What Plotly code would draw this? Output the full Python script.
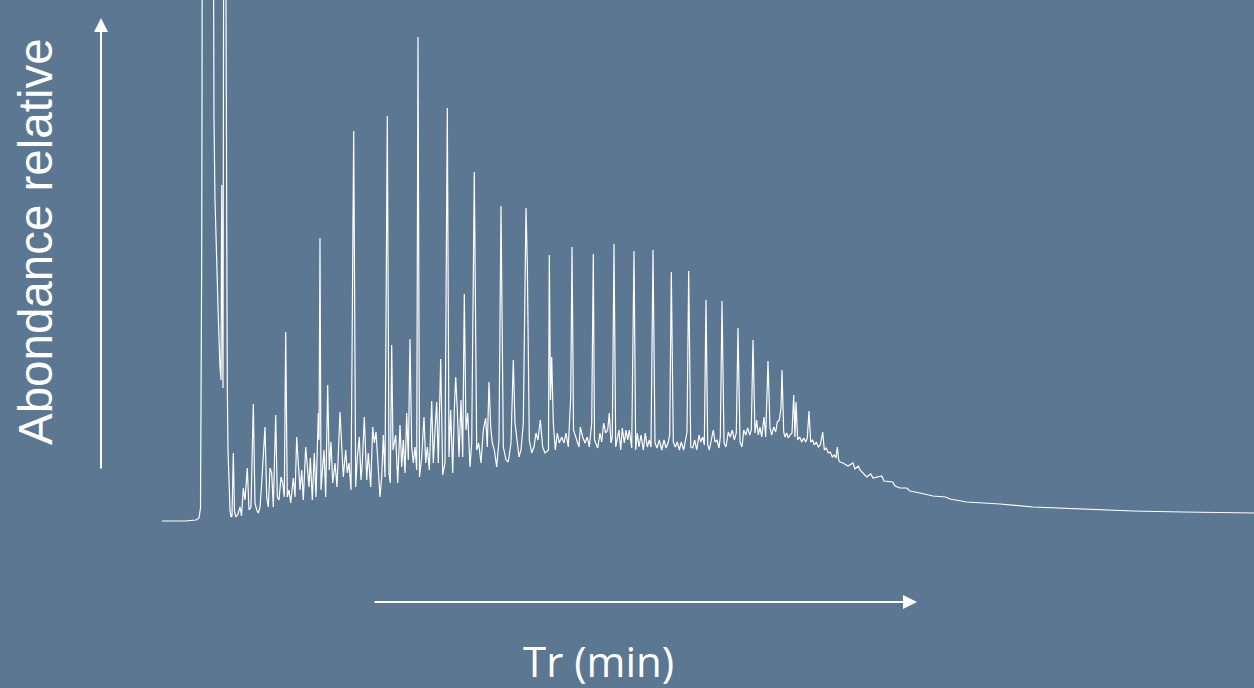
import plotly.graph_objects as go

# Chromatogram trace: scan number (0.05 min per scan) and relative abundance
scan = [0, 23, 34, 37, 38.5, 39.3, 39.7, 40, 40.5, 50.8, 51.3, 52, 53, 54.7, 56.3, 58, 59, 59.7, 60.3, 61,
        62, 63, 64, 64.7, 65.3, 66, 67, 68, 69, 70, 71.3, 72.5, 74, 76, 78, 79.5, 81.3, 83, 85.3, 87,
        89, 91.3, 93, 94.7, 96.3, 98, 99.7, 101.3, 103, 104.7, 106.3, 108, 109.7, 111.3, 113.7, 115.3, 117, 119, 120.7, 122.3,
        123.7, 125.3, 127, 128.7, 131.3, 133, 134.7, 136.3, 138, 139.7, 141.3, 143.7, 145.3, 147, 148.3, 150.3, 152.3, 154, 156.3, 157,
        158, 159, 162, 163.7, 165.7, 167.3, 169, 170.7, 173, 175, 178, 179.7, 181.3, 183.7, 185.3, 187, 189, 191.7, 193.7, 195.3,
        197.3, 199, 200.3, 202.3, 204.7, 206.3, 208.7, 210.7, 212.3, 214, 216.3, 218, 219.7, 221.3, 223, 225.3, 227, 228.3, 229.7, 231,
        233.7, 235.7, 238, 239.7, 241.3, 243, 244.7, 246.3, 248, 249.7, 251.3, 253, 254.7, 256, 257.5, 259.7, 262, 263.7, 265.3, 267.3,
        269.7, 271.3, 273, 274.7, 276.3, 278.7, 280.7, 283, 285.3, 287, 288.7, 290.7, 292.3, 293.7, 295.3, 297, 299, 300.7, 302.3, 304,
        305.7, 308, 309.7, 312.3, 314.7, 316.7, 319, 321.3, 323.7, 325.3, 327, 328.7, 330.3, 332.3, 334.7, 337, 339, 341.3, 344, 346.3,
        349, 351.3, 353, 354.7, 357, 359, 361.3, 364, 365.3, 367.3, 369.7, 372, 374, 376, 378.3, 380.7, 383, 386.5, 387.3, 388.5,
        389.7, 391.3, 393.3, 395.3, 397.3, 399.7, 402, 404, 406.3, 408.7, 410, 411.5, 414.7, 417, 418.3, 420.7, 423, 425.3, 427.3, 429.7,
        431.3, 432.5, 435.7, 438, 439.7, 441.7, 443.7, 445.7, 447.3, 449, 450.3, 452, 453.7, 455.3, 457, 458.7, 460.3, 462.3, 464, 465.7,
        467.3, 469.7, 472, 473.7, 475.3, 477, 479, 481.3, 483.3, 485.3, 487.3, 489, 491, 493, 495, 497.3, 499.7, 502, 504, 506,
        507.7, 509.3, 511.3, 513.3, 515.3, 517.3, 519.3, 521.7, 523.7, 525, 526.7, 528.7, 530.7, 532.7, 534.7, 537, 538.7, 540.7, 542.3, 544,
        545.7, 547.3, 549.7, 551.3, 553, 555, 557, 558.3, 560, 562, 564, 566.3, 568.3, 570.3, 572.3, 574.3, 576, 578, 580, 581.7,
        583.7, 585.7, 587.7, 589.3, 591, 593, 594.7, 596.3, 598, 599.7, 602, 603.7, 606, 608, 609.7, 611.7, 613.7, 615.3, 617.3, 619,
        620, 621.7, 623, 624.7, 626.3, 628, 630, 631.7, 633, 634, 635.7, 637.7, 639.7, 641.7, 643.7, 645.3, 647, 648.7, 650.7, 652.3,
        654.3, 656.3, 658.3, 660.7, 662.3, 664.3, 666.3, 668.3, 670.3, 672.3, 674, 675.3, 676.7, 678, 681, 686, 691, 693, 696.3, 698,
        704.7, 708.7, 711, 716, 719.7, 722, 730.7, 733, 738, 744.7, 748, 758, 771, 783.7, 788, 804.7, 838, 871, 921, 971,
        1021, 1092]

abundance = [-3, -3, -2, 0, 10, 118, 260, 408, 818, 818, 518, 398, 318, 251, 201, 151, 138, 333, 135, 130,
             818, 818, 460, 218, 131, 68, 38, 8, 1, 2, 65, 6, 1, 4, 11, 2, 30, 18, 50, 8,
             11, 114, 15, 8, 5, 11, 35, 65, 91, 21, 11, 50, 45, 11, 103, 21, 18, 41, 35, 21,
             186, 21, 28, 15, 40, 21, 81, 55, 28, 48, 18, 71, 55, 31, 60, 18, 65, 21, 105, 78,
             280, 28, 68, 21, 133, 48, 76, 35, 55, 31, 106, 78, 41, 68, 45, 55, 28, 387, 31, 61,
             81, 38, 55, 101, 38, 65, 31, 91, 75, 86, 48, 21, 41, 83, 41, 402, 45, 35, 173, 68,
             83, 35, 93, 51, 78, 45, 105, 58, 179, 71, 55, 71, 48, 481, 41, 61, 101, 55, 71, 48,
             117, 55, 88, 116, 55, 159, 43, 55, 410, 61, 108, 45, 108, 141, 108, 61, 118, 61, 224, 88,
             105, 51, 75, 346, 68, 75, 55, 88, 100, 71, 136, 91, 75, 68, 51, 78, 312, 71, 58, 56,
             75, 158, 95, 78, 61, 68, 95, 310, 255, 78, 65, 71, 85, 78, 98, 71, 65, 68, 263, 118,
             161, 95, 68, 85, 75, 81, 75, 85, 71, 121, 271, 88, 78, 71, 91, 81, 75, 81, 71, 95,
             264, 78, 70, 85, 76, 95, 85, 88, 105, 75, 81, 274, 71, 81, 88, 68, 90, 75, 88, 78,
             88, 70, 267, 68, 85, 71, 83, 68, 85, 71, 78, 71, 268, 75, 70, 78, 68, 78, 70, 75,
             83, 246, 76, 71, 76, 68, 76, 68, 78, 86, 247, 71, 70, 78, 68, 83, 76, 81, 73, 218,
             73, 68, 80, 88, 76, 78, 70, 81, 217, 75, 71, 86, 81, 88, 78, 85, 190, 76, 71, 88,
             83, 90, 83, 88, 178, 85, 98, 83, 91, 81, 101, 81, 157, 90, 83, 91, 86, 96, 98, 110,
             148, 86, 81, 85, 80, 83, 85, 123, 81, 116, 78, 81, 76, 80, 76, 80, 107, 76, 78, 73,
             76, 71, 73, 86, 68, 70, 65, 66, 61, 63, 60, 71, 58, 56, 55, 52, 55, 49, 52, 48,
             41, 44, 40, 41, 42, 37, 36, 32, 30, 30, 27, 25, 22, 21, 19, 16, 14, 11, 9, 7,
             6, 5]

MIN_PER_SCAN = 0.05
tr_min = [s * MIN_PER_SCAN for s in scan]

BG = "#5B7791"
W, H = 1254, 688

fig = go.Figure()
fig.add_trace(go.Scatter(
    x=tr_min, y=abundance, mode="lines",
    line=dict(color="white", width=1.2),
    hoverinfo="skip", showlegend=False,
))

fig.update_layout(
    width=W, height=H,
    margin=dict(l=0, r=0, t=0, b=0),
    paper_bgcolor=BG, plot_bgcolor=BG,
    xaxis=dict(range=[-8.1, 54.6], visible=False, fixedrange=True),
    yaxis=dict(range=[-170, 518], visible=False, fixedrange=True),
    showlegend=False,
)

# axis arrows (paper coordinates)
fig.add_annotation(
    x=101 / W, y=1 - 18 / H, xref="paper", yref="paper",
    ax=0, ay=452, text="", showarrow=True,
    arrowhead=2, arrowsize=1.4, arrowwidth=2, arrowcolor="white",
)
fig.add_annotation(
    x=917 / W, y=1 - 602 / H, xref="paper", yref="paper",
    ax=-544, ay=0, text="", showarrow=True,
    arrowhead=2, arrowsize=1.4, arrowwidth=2, arrowcolor="white",
)

fig.add_annotation(
    x=36 / W, y=1 - 242 / H, xref="paper", yref="paper",
    text="Abondance relative", showarrow=False, textangle=-90,
    font=dict(family="Liberation Sans, Arial, sans-serif", size=47.5, color="white"),
    xanchor="center", yanchor="middle",
)
fig.add_annotation(
    x=598 / W, y=1 - 660 / H, xref="paper", yref="paper",
    text="Tr (min)", showarrow=False,
    font=dict(family="Open Sans, sans-serif", size=42, color="white"),
    xanchor="center", yanchor="middle",
)

fig.write_html(
    "out.html",
    config={"displayModeBar": False, "staticPlot": True},
    post_script="document.body.style.margin='0';document.body.style.overflow='hidden';"
                "document.body.style.background='" + BG + "';",
)
